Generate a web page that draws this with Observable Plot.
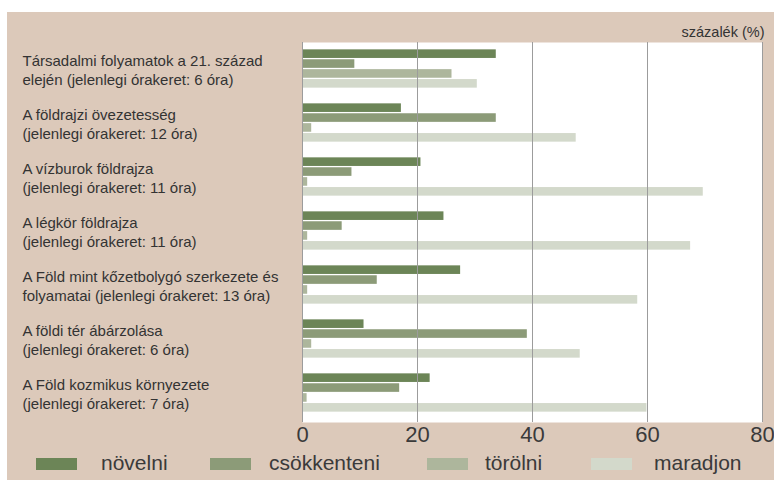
<!DOCTYPE html>
<html>
<head>
<meta charset="utf-8">
<script src="https://cdn.jsdelivr.net/npm/d3@7"></script>
<script src="https://cdn.jsdelivr.net/npm/@observablehq/plot@0.6"></script>
<style>
  html, body { margin: 0; padding: 0; background: #ffffff; }
  body { width: 774px; height: 480px; position: relative; overflow: hidden;
         font-family: "Liberation Sans", Arial, Helvetica, sans-serif; }
  #panel { position: absolute; left: 7px; top: 12px; width: 767px; height: 468px; background: #dcc9ba; }
  #legend { position: absolute; left: 0; top: 0; width: 767px; height: 468px; pointer-events: none; }
  .sw { position: absolute; width: 41px; height: 12px; top: 446px; }
  .lt { position: absolute; top: 439px; font-size: 21px; line-height: 24px; color: #3a3a3a; white-space: nowrap; }
</style>
</head>
<body>
<div id="panel"><div id="chart"></div><div id="legend"></div></div>
<script>
// ---- data ----
const categories = [
  "Társadalmi folyamatok a 21. század\nelején (jelenlegi órakeret: 6 óra)",
  "A földrajzi övezetesség\n(jelenlegi órakeret: 12 óra)",
  "A vízburok földrajza\n(jelenlegi órakeret: 11 óra)",
  "A légkör földrajza\n(jelenlegi órakeret: 11 óra)",
  "A Föld mint kőzetbolygó szerkezete és\nfolyamatai (jelenlegi órakeret: 13 óra)",
  "A földi tér ábárzolása\n(jelenlegi órakeret: 6 óra)",
  "A Föld kozmikus környezete\n(jelenlegi órakeret: 7 óra)"
];
const series = ["növelni", "csökkenteni", "törölni", "maradjon"];
const novelni     = [33.7, 17.2, 20.6, 24.6, 27.5, 10.7, 22.2];
const csokkenteni = [9.1, 33.7, 8.6, 6.9, 13.0, 39.1, 16.9];
const torolni     = [26.0, 1.6, 0.9, 0.9, 0.9, 1.6, 0.8];
const maradjon    = [30.4, 47.6, 69.7, 67.5, 58.3, 48.3, 59.9];
const seriesValues = [novelni, csokkenteni, torolni, maradjon];
const colors = ["#6c8557", "#8c9b78", "#adb69c", "#d3d9cb"];
const xTicks = [0, 20, 40, 60, 80];
const unitLabel = "százalék (%)";

// ---- table ----
const rows = series.flatMap((s, k) => categories.map((c, i) => ({category: c, series: s, value: seriesValues[k][i]})));

const W = 767, H = 440;
const mL = 295, mR = 12, mT = 30, mB = 30;
const bandH = 39.6, barH = bandH / series.length;

const chart = Plot.plot({
  width: W, height: H,
  marginLeft: mL, marginRight: mR, marginTop: mT, marginBottom: mB,
  style: {background: "transparent", fontSize: "22px", fontFamily: "'Liberation Sans', Arial, sans-serif", color: "#3a3a3a"},
  x: {domain: [0, 80], ticks: xTicks, tickSize: 0, tickPadding: 4, label: null, tickFormat: d => d},
  y: {domain: categories, axis: null, paddingInner: 0.279, paddingOuter: 0, insetTop: 4.4, insetBottom: 6.9},
  color: {domain: series, range: colors},
  marks: [
    Plot.frame({fill: "white", stroke: "none"}),
    ...series.map((s, k) => Plot.barX(rows.filter(r => r.series === s), {
      x: "value", y: "category", fill: "series",
      insetTop: k * barH + 0.35, insetBottom: (series.length - 1 - k) * barH + 0.35
    })),
    Plot.ruleX(xTicks, {stroke: "#9c9c9c", strokeWidth: 1}),
    Plot.text(categories, {y: d => d, frameAnchor: "left", textAnchor: "start", dx: -280,
      fontSize: 15, lineHeight: 1.27, fill: "#333333"}),
    Plot.text([unitLabel], {frameAnchor: "top-right", textAnchor: "end", lineAnchor: "bottom",
      dx: 2, dy: -6, fontSize: 14.5, fill: "#333333"})
  ]
});
document.getElementById("chart").appendChild(chart);

// ---- legend ----
const legendSwatchLeft = [28.5, 203, 419.7, 583.7];
const legendTextLeft = [94, 262, 478, 647];
const legend = document.getElementById("legend");
series.forEach((s, k) => {
  const sw = document.createElement("div");
  sw.className = "sw";
  sw.style.left = legendSwatchLeft[k] + "px";
  sw.style.background = colors[k];
  legend.appendChild(sw);
  const t = document.createElement("div");
  t.className = "lt";
  t.style.left = legendTextLeft[k] + "px";
  t.textContent = s;
  legend.appendChild(t);
});
</script>
</body>
</html>
